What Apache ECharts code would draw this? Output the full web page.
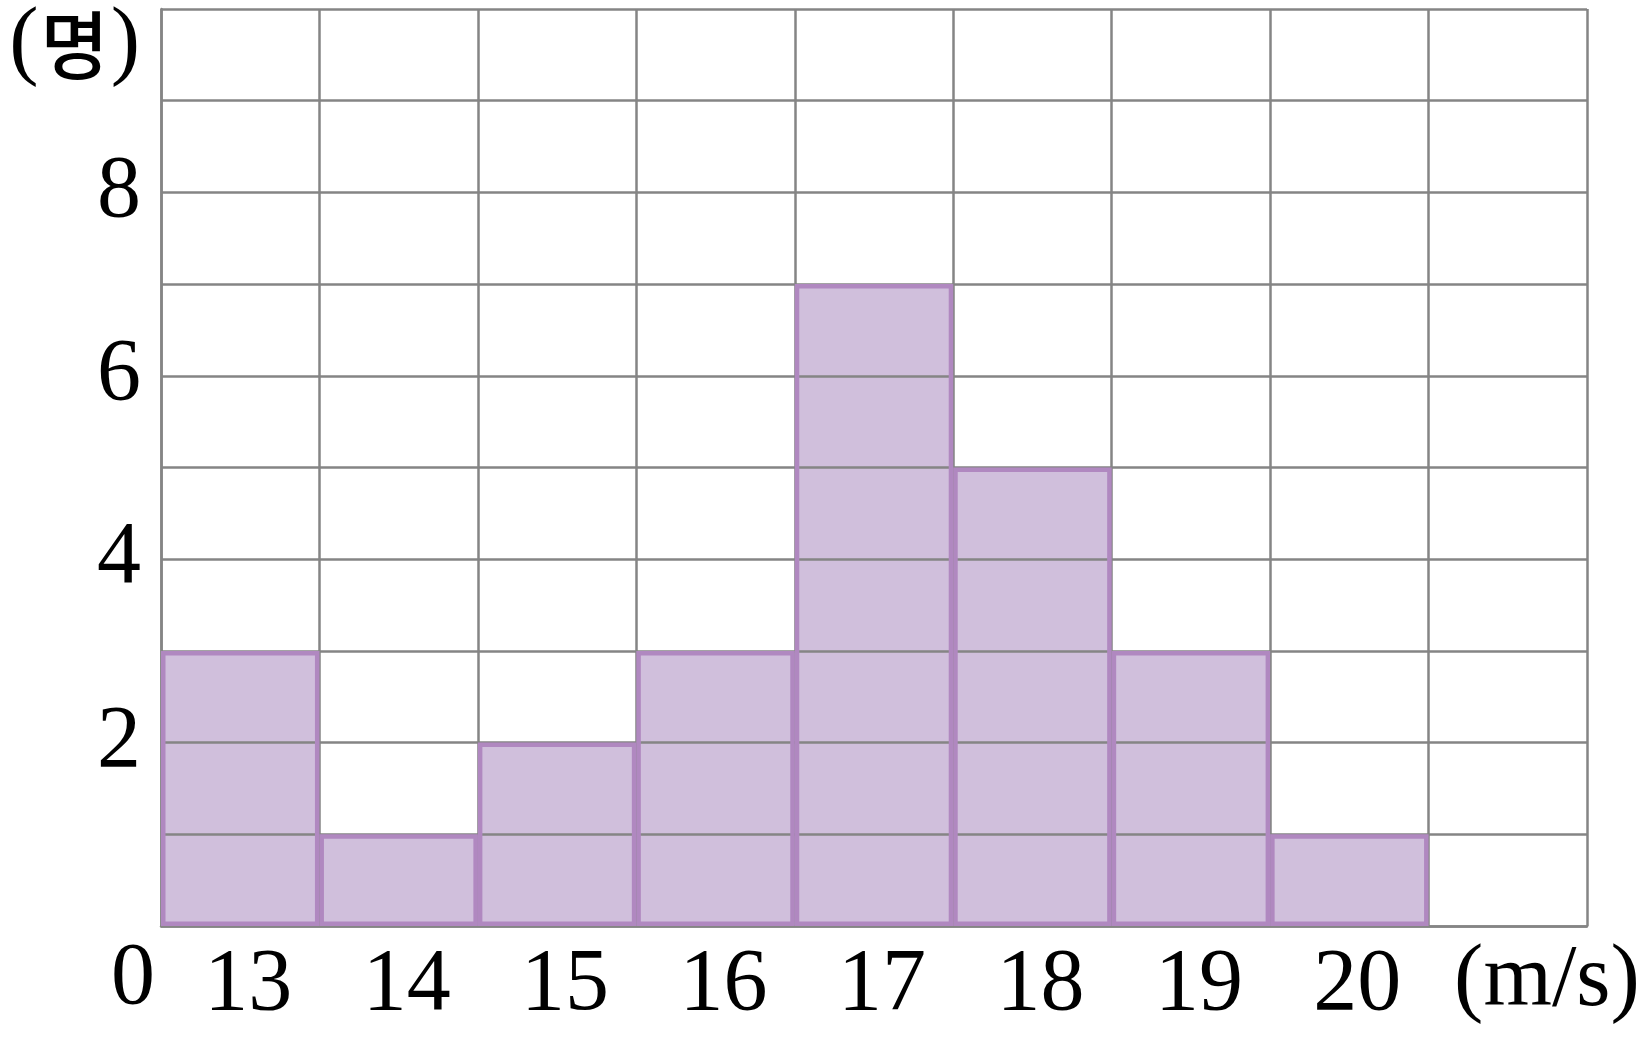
<!DOCTYPE html>
<html>
<head>
<meta charset="utf-8">
<script src="https://cdn.jsdelivr.net/npm/echarts@6/dist/echarts.min.js"></script>
<style>html,body{margin:0;padding:0;background:#fff;}#c{width:1652px;height:1040px;}</style>
</head>
<body>
<div id="c"></div>
<script>
var categories = ['13', '14', '15', '16', '17', '18', '19', '20', ''];
var counts = [3, 1, 2, 3, 7, 5, 3, 1, null];
var yTickLabels = [2, 4, 6, 8];
var xUnit = '(m/s)';
var yUnit = '명';

var FONT = '"Liberation Serif", "Noto Sans CJK KR", serif';
var GRID = '#858585';
var chart = echarts.init(document.getElementById('c'), null, {renderer: 'canvas'});
chart.setOption({
  animation: false,
  backgroundColor: '#fff',
  grid: {left: 161, top: 9, right: 65, bottom: 114},
  xAxis: {
    type: 'category',
    data: categories,
    boundaryGap: true,
    z: 1.5,
    axisLine: {show: true, lineStyle: {color: GRID, width: 2.5}},
    axisTick: {show: false},
    splitLine: {show: true, interval: 0, lineStyle: {color: GRID, width: 2.5}},
    axisLabel: {interval: 0, margin: 16, color: '#000', fontFamily: FONT, fontSize: 88, padding: [0, 0, 0, 16]},
    name: xUnit,
    nameLocation: 'end',
    nameGap: -40,
    nameTextStyle: {color: '#000', fontFamily: FONT, fontSize: 88, align: 'center', verticalAlign: 'top', padding: [12, 0, 0, 0]}
  },
  yAxis: {
    type: 'value',
    min: 0, max: 10, interval: 1,
    z: 1.5,
    axisLine: {show: true, lineStyle: {color: GRID, width: 2.5}},
    axisTick: {show: false},
    splitLine: {show: true, lineStyle: {color: GRID, width: 2.5}},
    axisLabel: {
      margin: 20, color: '#000', fontFamily: FONT, fontSize: 88,
      formatter: function (v) { return yTickLabels.indexOf(v) >= 0 ? String(v) : ''; }
    },
    name: '({k|' + yUnit + '})',
    nameLocation: 'end',
    nameGap: -36,
    nameTextStyle: {
      color: '#000', fontFamily: FONT, fontSize: 88, align: 'right', verticalAlign: 'middle', padding: [0, 21, 0, 0],
      rich: {k: {fontFamily: '"Noto Sans CJK KR", sans-serif', fontSize: 74, fontWeight: 500, color: '#000', padding: [0, 2, 0, 2]}}
    }
  },
  graphic: [{
    type: 'text', left: 111, top: 936,
    style: {text: '0', fontFamily: FONT, fontSize: 88, fill: '#000'}
  }],
  series: [{
    type: 'bar', data: counts, z: 1,
    barWidth: '100%', barCategoryGap: 0,
    itemStyle: {color: '#d0bfdc', borderWidth: 0}
  }, {
    type: 'bar', data: counts, z: 3,
    barWidth: '100%', barCategoryGap: 0, barGap: '-100%',
    itemStyle: {color: 'rgba(0,0,0,0)', borderColor: '#b088c0', borderWidth: 4.5}
  }]
});
</script>
</body>
</html>
